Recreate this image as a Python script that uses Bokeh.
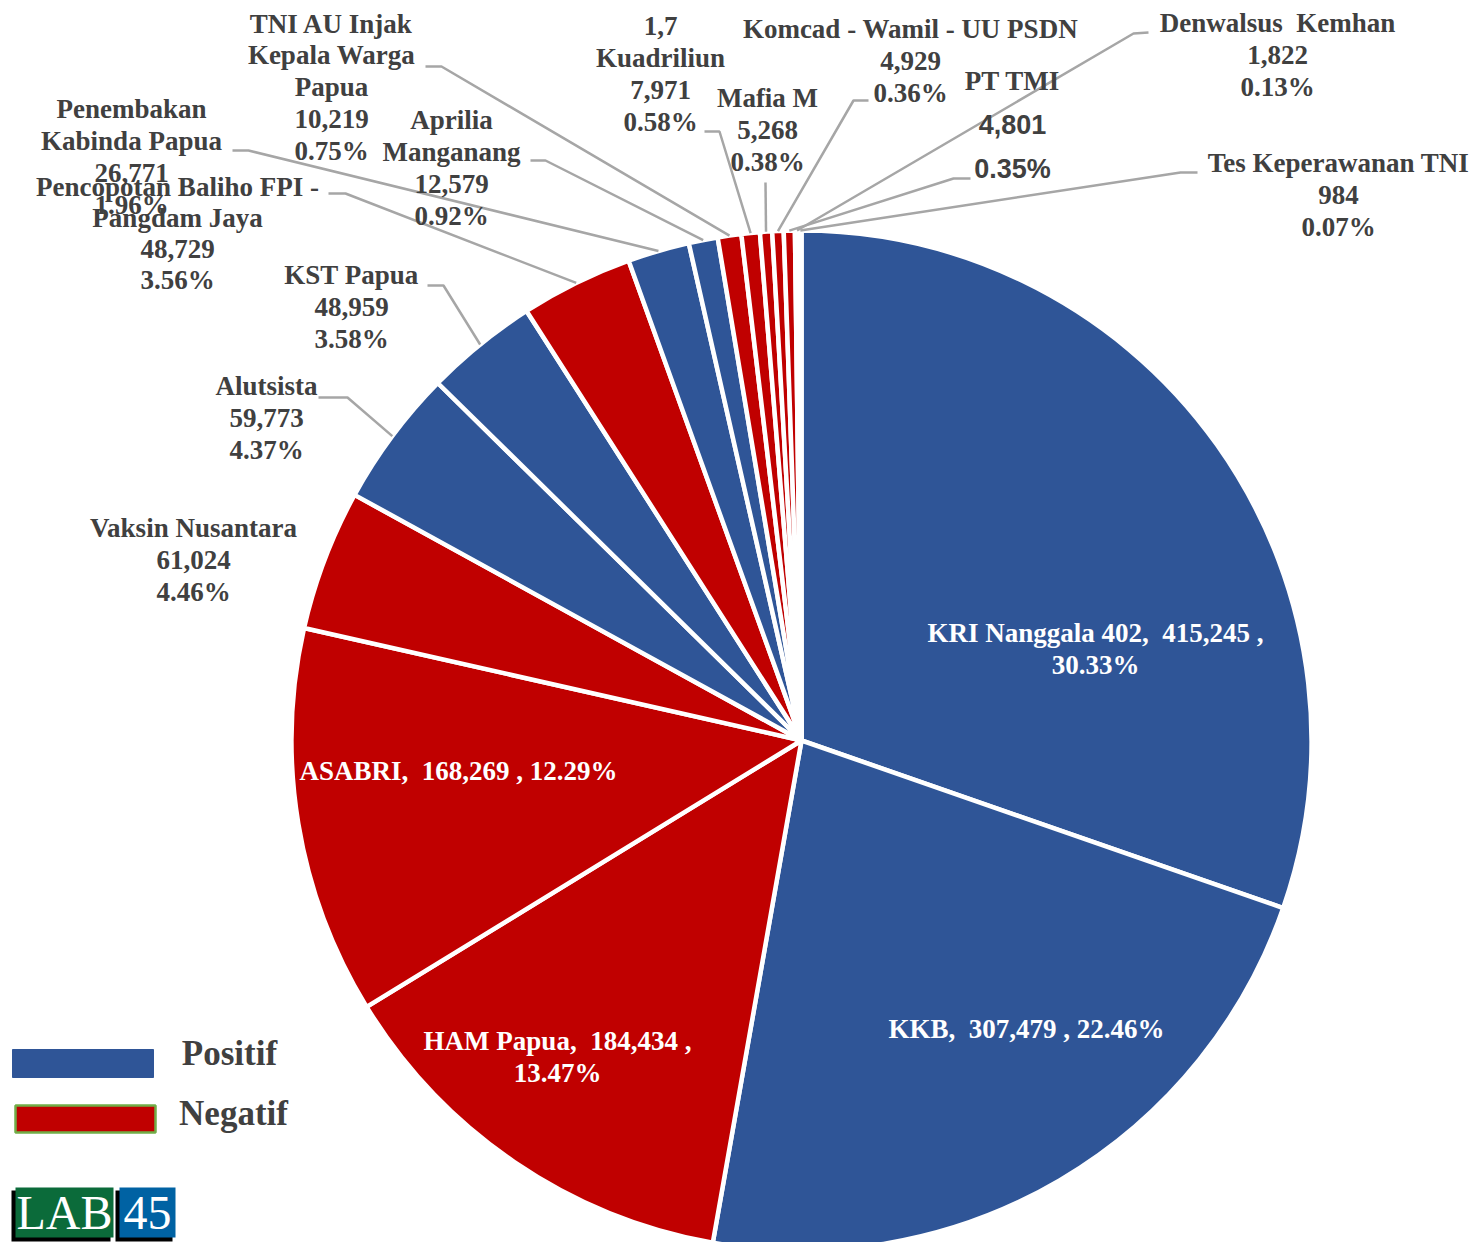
import math
from bokeh.plotting import figure
from bokeh.models import Range1d, ColumnDataSource
from bokeh.core.properties import value
from bokeh.embed import file_html
from bokeh.resources import INLINE

# ---------------- data ----------------
topics = ["KRI Nanggala 402", "KKB", "HAM Papua", "ASABRI", "Vaksin Nusantara",
          "Alutsista", "KST Papua", "Pencopotan Baliho FPI - Pangdam Jaya",
          "Penembakan Kabinda Papua", "Aprilia Manganang",
          "TNI AU Injak Kepala Warga Papua", "1,7 Kuadriliun", "Mafia M",
          "Komcad - Wamil - UU PSDN", "PT TMI", "Denwalsus  Kemhan",
          "Tes Keperawanan TNI"]
mentions = [415245, 307479, 184434, 168269, 61024, 59773, 48959, 48729,
            26771, 12579, 10219, 7971, 5268, 4929, 4801, 1822, 984]
sentiment = ["Positif", "Positif", "Negatif", "Negatif", "Negatif", "Positif",
             "Positif", "Negatif", "Positif", "Positif", "Negatif", "Negatif",
             "Negatif", "Negatif", "Negatif", "Negatif", "Negatif"]
legend_labels = ["Positif", "Negatif"]

# ---------------- styles / layout ----------------
palette = {"Positif": "#2F5597", "Negatif": "#C00000"}
W, H = 1481, 1242
CX, CY, R = 801, 740, 510          # pie centre (image coords) and radius
TXT = "#404040"
LEAD = "#A6A6A6"
SERIF = value("Liberation Serif")
SANS = value("Liberation Sans")
FS = "27px"
NB = "\u00a0"


def Y(v):
    return H - v


def keep_spaces(s):
    return s.replace("  ", " " + NB)


p = figure(width=W, height=H, x_range=Range1d(0, W), y_range=Range1d(0, H),
           output_backend="svg", toolbar_location=None, min_border=0,
           x_axis_type=None, y_axis_type=None)
p.grid.visible = False
p.outline_line_color = None
p.background_fill_color = "white"
p.border_fill_color = "white"

total = sum(mentions)
cum = [0.0]
for v in mentions:
    cum.append(cum[-1] + v / total)
starts = [math.pi / 2 - 2 * math.pi * cum[i + 1] for i in range(len(mentions))]
ends = [math.pi / 2 - 2 * math.pi * cum[i] for i in range(len(mentions))]
mids = [math.pi / 2 - math.pi * (cum[i] + cum[i + 1]) for i in range(len(mentions))]
pcts = [f"{100 * v / total:.2f}%" for v in mentions]
vals = [f"{v:,}" for v in mentions]

src = ColumnDataSource(dict(x=[CX] * len(mentions), y=[Y(CY)] * len(mentions),
                            start=starts, end=ends,
                            color=[palette[s] for s in sentiment]))
p.wedge(x="x", y="y", radius=R, start_angle="start", end_angle="end",
        fill_color="color", line_color="white", line_width=4.5, source=src)

# outside label layout: name lines, centre x, first-line y, step, leader elbow pts
outside = {
    "Vaksin Nusantara": (["Vaksin Nusantara"], 193, 527, 32, None),
    "Alutsista": (["Alutsista"], 266, 385, 32, [(318, 397), (347, 397)]),
    "KST Papua": (["KST Papua"], 351, 274, 32, [(427, 285), (443, 285)]),
    "Pencopotan Baliho FPI - Pangdam Jaya": (["Pencopotan Baliho FPI -", "Pangdam Jaya"], 177, 186, 31.3, [(328, 193), (345, 193)]),
    "Penembakan Kabinda Papua": (["Penembakan", "Kabinda Papua"], 131, 108, 32, [(232, 150), (248, 150)]),
    "Aprilia Manganang": (["Aprilia", "Manganang"], 451, 119, 32, [(530, 160), (545, 160)]),
    "TNI AU Injak Kepala Warga Papua": (["TNI AU Injak", "Kepala Warga", "Papua"], 331, 23, 31.8, [(425, 66), (441, 66)]),
    "1,7 Kuadriliun": (["1,7", "Kuadriliun"], 660, 25, 32, [(704, 131), (719, 131)]),
    "Mafia M": (["Mafia M"], 767, 97, 32, [(765, 182)]),
    "Komcad - Wamil - UU PSDN": (["Komcad - Wamil - UU PSDN"], 910, 28, 32, [(868, 100), (853, 100)]),
    "Denwalsus  Kemhan": (["Denwalsus  Kemhan"], 1277, 22, 32, [(1148, 32), (1133, 33)]),
    "Tes Keperawanan TNI": (["Tes Keperawanan TNI"], 1338, 162, 32, [(1197, 172), (1180, 172)]),
}
pt_tmi = ("PT TMI", 1012, 80, 44, [(970, 178), (953, 178)])

# inside label layout: centre x, first-line y, split into two lines?
inside = {
    "KRI Nanggala 402": (1095, 632, True),
    "KKB": (1026, 1028, False),
    "HAM Papua": (557, 1040, True),
    "ASABRI": (458, 770, False),
}

ser_x, ser_y, ser_t = [], [], []
sans_x, sans_y, sans_t = [], [], []
in_x, in_y, in_t = [], [], []
lx, ly = [], []

for i, name in enumerate(topics):
    ex = CX + R * math.cos(mids[i])
    ey = Y(CY) + R * math.sin(mids[i])
    if name in outside:
        lines, cx, y0, step, leader = outside[name]
        allines = lines + [vals[i], pcts[i]]
        for k, t in enumerate(allines):
            ser_x.append(cx); ser_y.append(Y(y0 + k * step)); ser_t.append(keep_spaces(t))
        if leader:
            lx.append([pt[0] for pt in leader] + [ex])
            ly.append([Y(pt[1]) for pt in leader] + [ey])
    elif name == pt_tmi[0]:
        _, cx, y0, step, leader = pt_tmi
        ser_x.append(cx); ser_y.append(Y(y0)); ser_t.append(name)
        sans_x += [cx, cx]; sans_y += [Y(y0 + step), Y(y0 + 2 * step)]
        sans_t += [vals[i], pcts[i]]
        lx.append([pt[0] for pt in leader] + [ex])
        ly.append([Y(pt[1]) for pt in leader] + [ey])
    elif name in inside:
        cx, y0, two = inside[name]
        if two:
            tl = [f"{name},  {vals[i]} ,", pcts[i]]
        else:
            tl = [f"{name},  {vals[i]} , {pcts[i]}"]
        for k, t in enumerate(tl):
            in_x.append(cx); in_y.append(Y(y0 + k * 32)); in_t.append(keep_spaces(t))

p.multi_line(xs=lx, ys=ly, line_color=LEAD, line_width=2.5)

p.text(x=ser_x, y=ser_y, text=ser_t, text_align="center", text_baseline="middle",
       text_font=SERIF, text_font_style="bold", text_font_size=FS, text_color=TXT)
p.text(x=sans_x, y=sans_y, text=sans_t, text_align="center", text_baseline="middle",
       text_font=SANS, text_font_style="bold", text_font_size="27px", text_color=TXT)
p.text(x=in_x, y=in_y, text=in_t, text_align="center", text_baseline="middle",
       text_font=SERIF, text_font_style="bold", text_font_size=FS, text_color="white")

# legend (custom)
leg_boxes = {"Positif": (12, 1049, 153, 1077, "#2F5597", "#2F5597", 229, 1053),
             "Negatif": (15, 1105, 155, 1132, "#70AD47", "#C00000", 233, 1113)}
for lab in legend_labels:
    x0, y0, x1, y1, lc, fc, tx, ty = leg_boxes[lab]
    p.quad(left=[x0], right=[x1], top=[Y(y0)], bottom=[Y(y1)], fill_color=fc,
           line_color=lc, line_width=2.5 if lab == "Negatif" else 1)
    p.text(x=[tx], y=[Y(ty)], text=[lab], text_align="center", text_baseline="middle",
           text_font=SERIF, text_font_style="bold", text_font_size="35px", text_color=TXT)

# logo
p.quad(left=[11, 115], right=[110, 172], top=[Y(1190), Y(1190)], bottom=[Y(1241), Y(1241)],
       fill_color="black", line_color=None)
p.quad(left=[15], right=[113], top=[Y(1187)], bottom=[Y(1237)], fill_color="#0B6B3A", line_color=None)
p.quad(left=[119], right=[175], top=[Y(1187)], bottom=[Y(1237)], fill_color="#0062A3", line_color=None)
p.text(x=[64, 147], y=[Y(1212), Y(1212)], text=["LAB", "45"], text_align="center",
       text_baseline="middle", text_font=SERIF, text_font_size="48px", text_color="white")

open("out.html", "w").write(file_html(p, INLINE))
